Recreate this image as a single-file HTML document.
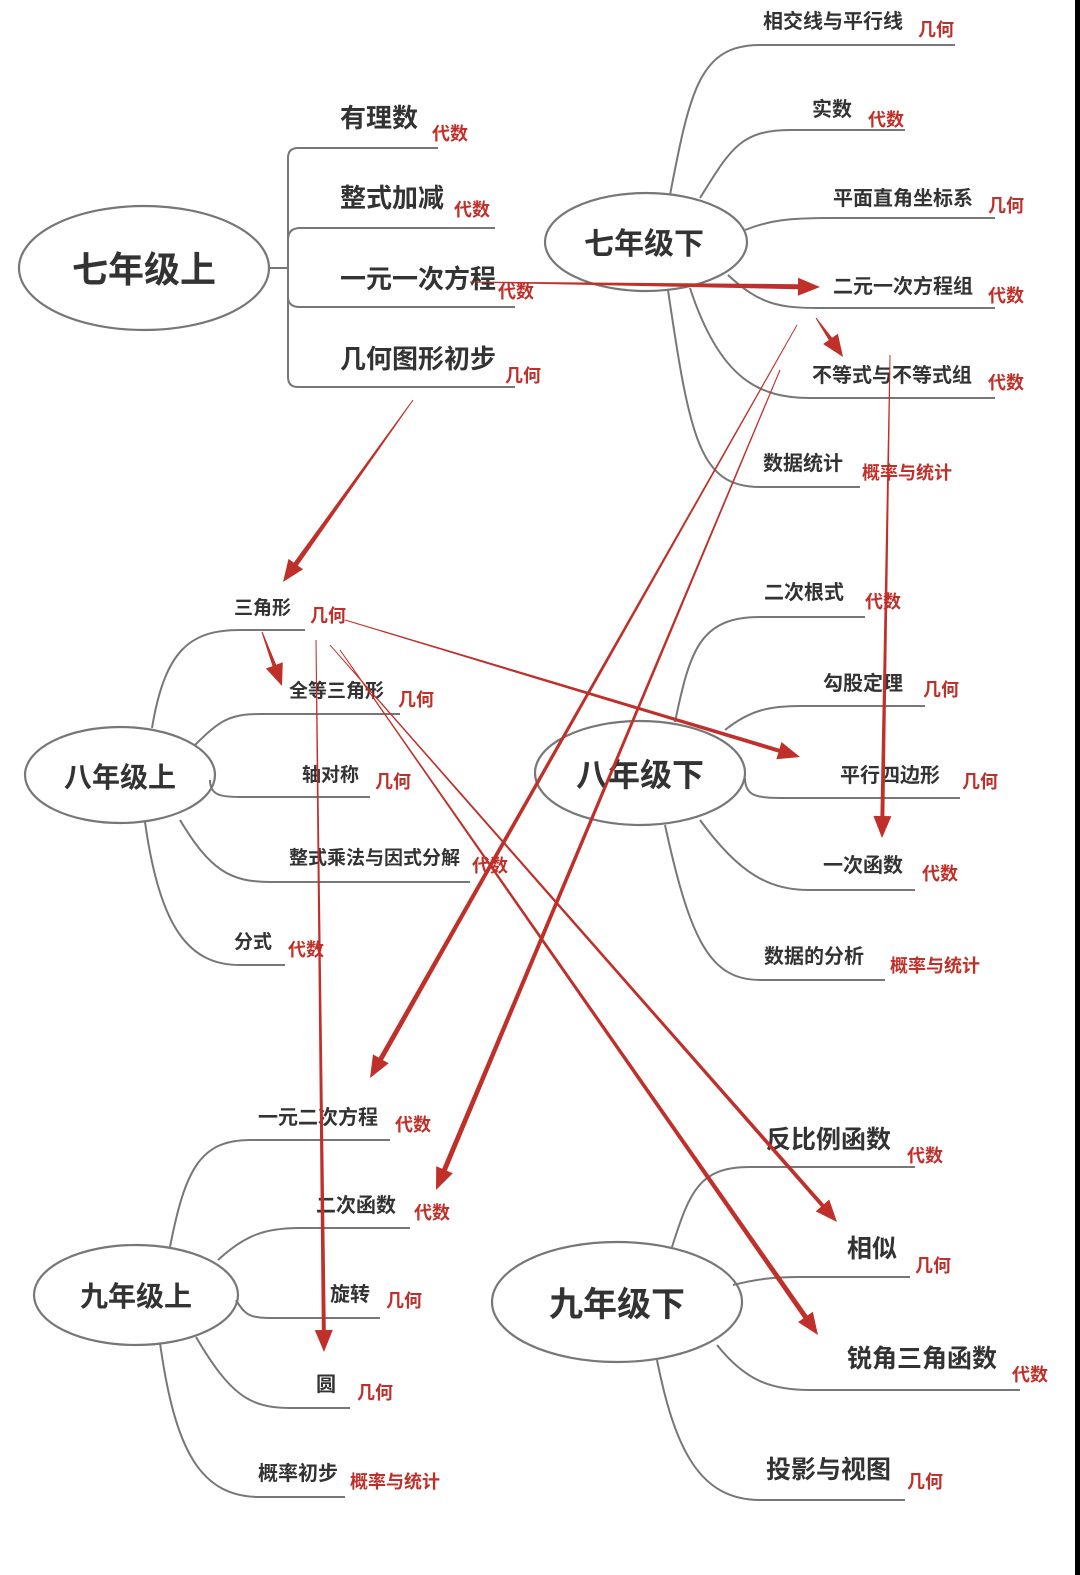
<!DOCTYPE html>
<html><head><meta charset="utf-8">
<style>
html,body{margin:0;padding:0;background:#fff;}
svg{display:block;}
text{font-family:"Liberation Sans","Noto Sans CJK SC",sans-serif;}
.t{font-weight:bold;fill:#333;}
.r{font-weight:bold;fill:#c0302a;font-size:18px;}
.b{fill:none;stroke:#777;stroke-width:2;}
</style></head>
<body>
<svg id="s" width="1080" height="1575" viewBox="0 0 1080 1575" xmlns="http://www.w3.org/2000/svg">
<rect x="1075" y="0" width="5" height="1575" fill="#000"/>
<g fill="none" stroke="#777" stroke-width="2.2">
<ellipse cx="144" cy="268" rx="125" ry="62"/>
<ellipse cx="646" cy="242" rx="101" ry="49"/>
<ellipse cx="120" cy="775" rx="95" ry="48"/>
<ellipse cx="640" cy="773" rx="105" ry="52"/>
<ellipse cx="136" cy="1295" rx="102" ry="50"/>
<ellipse cx="617" cy="1302" rx="125" ry="60"/>
</g>
<g class="t" font-size="36" text-anchor="middle">
<text x="144" y="282">七年级上</text>
<text x="644" y="254" font-size="30">七年级下</text>
<text x="120" y="787" font-size="28">八年级上</text>
<text x="640" y="786" font-size="32">八年级下</text>
<text x="136" y="1306" font-size="28">九年级上</text>
<text x="617" y="1316" font-size="34">九年级下</text>
</g>
<g class="b">
<path d="M270 268 H288"/>
<path d="M298 148 Q288 148 288 158 V377 Q288 387 298 387"/>
<path d="M298 148 H438"/>
<path d="M288 240 Q288 228 300 228 H495"/>
<path d="M300 307 H515"/>
<path d="M298 387 H515"/>
<path d="M288 297 Q288 307 300 307"/>
</g>
<g class="t" font-size="26">
<text x="340" y="127">有理数</text>
<text x="340" y="207">整式加减</text>
<text x="340" y="288">一元一次方程</text>
<text x="340" y="368">几何图形初步</text>
</g>
<g class="r">
<text x="432" y="140">代数</text>
<text x="454" y="216">代数</text>
<text x="498" y="298">代数</text>
<text x="505" y="382">几何</text>
</g>
<g class="b">
<path d="M670 195 C690 90 700 45 760 45 H955"/>
<path d="M700 198 C730 150 740 130 790 130 H905"/>
<path d="M745 230 C770 220 790 218 830 218 H995"/>
<path d="M728 275 C760 305 780 308 820 308 H995"/>
<path d="M690 288 C720 380 760 398 810 398 H995"/>
<path d="M668 290 C690 440 700 487 760 487 H860"/>
</g>
<g class="t" font-size="20">
<text x="763" y="28">相交线与平行线</text>
<text x="812" y="116">实数</text>
<text x="833" y="205">平面直角坐标系</text>
<text x="833" y="293">二元一次方程组</text>
<text x="812" y="382">不等式与不等式组</text>
<text x="763" y="470">数据统计</text>
</g>
<g class="r">
<text x="918" y="36">几何</text>
<text x="868" y="126">代数</text>
<text x="988" y="212">几何</text>
<text x="988" y="302">代数</text>
<text x="988" y="389">代数</text>
<text x="862" y="479">概率与统计</text>
</g>
<g class="b">
<path d="M152 728 C165 650 190 630 240 630 H305"/>
<path d="M195 745 C220 720 230 714 260 714 H400"/>
<path d="M210 780 C210 795 220 797 240 797 H370"/>
<path d="M180 820 C210 870 230 882 270 882 H470"/>
<path d="M145 822 C160 930 190 965 240 965 H285"/>
</g>
<g class="t" font-size="19">
<text x="234" y="614">三角形</text>
<text x="289" y="697">全等三角形</text>
<text x="302" y="781">轴对称</text>
<text x="289" y="864">整式乘法与因式分解</text>
<text x="234" y="948">分式</text>
</g>
<g class="r">
<text x="310" y="622">几何</text>
<text x="398" y="706">几何</text>
<text x="375" y="788">几何</text>
<text x="472" y="872">代数</text>
<text x="288" y="956">代数</text>
</g>
<g class="b">
<path d="M675 722 C690 650 700 617 760 617 H865"/>
<path d="M725 730 C750 710 770 706 800 706 H925"/>
<path d="M745 778 C745 795 755 798 780 798 H960"/>
<path d="M700 820 C740 875 770 890 810 890 H915"/>
<path d="M665 825 C690 940 710 980 760 980 H885"/>
</g>
<g class="t" font-size="20">
<text x="764" y="599">二次根式</text>
<text x="823" y="690">勾股定理</text>
<text x="840" y="782">平行四边形</text>
<text x="823" y="872">一次函数</text>
<text x="764" y="963">数据的分析</text>
</g>
<g class="r">
<text x="865" y="608">代数</text>
<text x="923" y="696">几何</text>
<text x="962" y="788">几何</text>
<text x="922" y="880">代数</text>
<text x="890" y="972">概率与统计</text>
</g>
<g class="b">
<path d="M170 1247 C185 1170 200 1140 250 1140 H390"/>
<path d="M218 1260 C245 1235 265 1228 300 1228 H410"/>
<path d="M236 1300 C245 1315 250 1318 270 1318 H380"/>
<path d="M196 1337 C230 1395 250 1408 290 1408 H350"/>
<path d="M160 1343 C175 1450 200 1497 260 1497 H345"/>
</g>
<g class="t" font-size="20">
<text x="258" y="1124">一元二次方程</text>
<text x="316" y="1212">二次函数</text>
<text x="330" y="1301">旋转</text>
<text x="316" y="1391">圆</text>
<text x="258" y="1480">概率初步</text>
</g>
<g class="r">
<text x="395" y="1131">代数</text>
<text x="414" y="1219">代数</text>
<text x="386" y="1307">几何</text>
<text x="357" y="1399">几何</text>
<text x="350" y="1488">概率与统计</text>
</g>
<g class="b">
<path d="M672 1247 C690 1190 700 1167 750 1167 H915"/>
<path d="M733 1285 C760 1278 780 1277 800 1277 H910"/>
<path d="M717 1345 C745 1380 770 1390 810 1390 H1020"/>
<path d="M657 1360 C675 1450 700 1500 760 1500 H905"/>
</g>
<g class="t" font-size="25">
<text x="766" y="1148">反比例函数</text>
<text x="847" y="1257">相似</text>
<text x="847" y="1367">锐角三角函数</text>
<text x="766" y="1478">投影与视图</text>
</g>
<g class="r">
<text x="907" y="1162">代数</text>
<text x="915" y="1272">几何</text>
<text x="1012" y="1381">代数</text>
<text x="907" y="1488">几何</text>
</g>
<g id="arr"></g>
</svg>
<script>
var A=[
[470,282,820,287,5],
[413,400,283,582,5],
[262,632,282,686,4],
[345,620,800,757,4],
[816,318,843,357,4],
[890,355,882,838,4],
[797,325,370,1078,5],
[780,370,436,1190,5],
[316,640,324,1352,4],
[330,645,837,1222,4],
[340,650,818,1335,5]
];
var g=document.getElementById('arr'),s='';
A.forEach(function(a){
var x1=a[0],y1=a[1],x2=a[2],y2=a[3],w=a[4];
var dx=x2-x1,dy=y2-y1,L=Math.sqrt(dx*dx+dy*dy),ux=dx/L,uy=dy/L,nx=-uy,ny=ux;
var hl=22,hw=9;
var bx=x2-ux*hl,by=y2-uy*hl;
var p=[[x1+nx*0.5,y1+ny*0.5],[bx+nx*w/2,by+ny*w/2],[bx+nx*hw,by+ny*hw],[x2,y2],[bx-nx*hw,by-ny*hw],[bx-nx*w/2,by-ny*w/2],[x1-nx*0.5,y1-ny*0.5]];
s+='<polygon fill="#c0302a" points="'+p.map(function(q){return q[0].toFixed(1)+','+q[1].toFixed(1)}).join(' ')+'"/>';
});
g.innerHTML=s;
</script>
</body></html>
